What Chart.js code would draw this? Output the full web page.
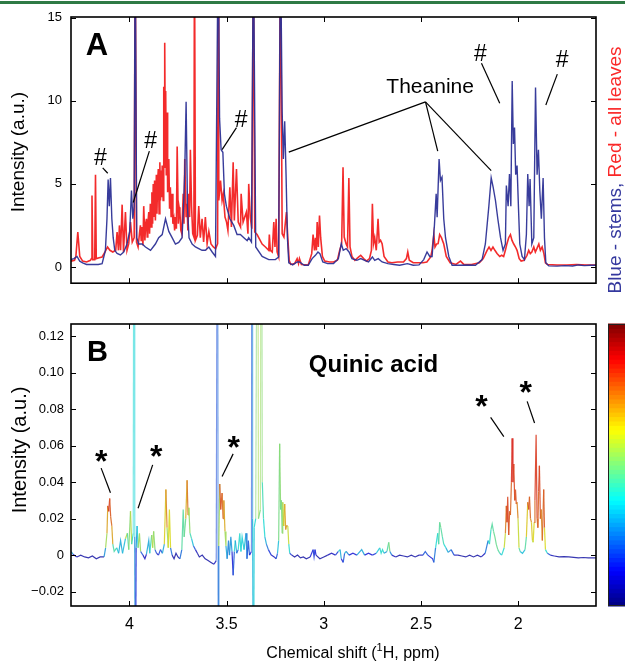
<!DOCTYPE html>
<html><head><meta charset="utf-8">
<script src="https://cdn.jsdelivr.net/npm/chart.js@4.4.1/dist/chart.umd.min.js"></script>
<style>
html,body{margin:0;padding:0;background:#fff;}
#wrap{position:relative;width:625px;height:662px;overflow:hidden;background:#fff;}
#topline{position:absolute;left:0;top:1px;width:625px;height:3px;background:#2f7a45;}
#boxA{position:absolute;left:0;top:0;width:625px;height:300px;}
#boxB{position:absolute;left:0;top:300px;width:625px;height:362px;}
</style></head><body>
<div id="wrap">
<div id="boxA"><canvas id="cA" width="625" height="300"></canvas></div>
<div id="boxB"><canvas id="cB" width="625" height="362"></canvas></div>
<div id="topline"></div>
</div>
<script>
// ---------- DATA ----------
const xTicks = [2, 2.5, 3, 3.5, 4];
const yTicksA = [0, 5, 10, 15];
const yTicksB = [-0.02, 0, 0.02, 0.04, 0.06, 0.08, 0.10, 0.12];

// Panel A, blue: stems [ppm, intensity]
const stems = [
[4.300,0.45],[4.285,0.5],[4.269,0.63],[4.255,0.35],[4.240,0.25],[4.220,0.15],[4.200,0.15],[4.180,0.15],[4.160,0.15],[4.140,0.2],
[4.123,1.0],[4.115,2.9],[4.109,5.27],[4.103,3.66],[4.097,5.36],[4.090,2.9],[4.083,1.76],[4.075,1.0],[4.063,0.81],[4.046,0.72],
[4.029,0.9],[4.012,1.38],[3.998,2.14],[3.989,4.6],[3.982,2.9],[3.975,3.66],[3.970,20],[3.962,1.76],[3.952,1.38],[3.934,1.38],
[3.917,1.2],[3.891,1.0],[3.866,1.38],[3.849,1.76],[3.831,1.95],[3.814,2.9],[3.797,2.14],[3.780,1.76],[3.763,1.38],[3.746,1.48],
[3.729,1.76],[3.720,4.0],[3.715,5.7],[3.708,9.94],[3.701,3.66],[3.693,1.76],[3.677,1.38],[3.660,1.2],[3.643,1.1],[3.626,1.0],
[3.609,1.0],[3.591,1.2],[3.574,0.9],[3.557,0.63],[3.543,20],[3.536,8.96],[3.528,7.06],[3.519,6.9],[3.511,4.4],[3.501,3.66],
[3.483,2.9],[3.463,2.5],[3.446,1.95],[3.429,1.95],[3.411,1.76],[3.394,1.58],[3.386,1.76],[3.372,1.5],[3.362,20],[3.350,1.2],
[3.317,0.63],[3.283,0.44],[3.249,0.44],[3.232,0.6],[3.223,20],[3.214,9.34],[3.208,6.5],[3.201,8.77],[3.194,5.55],[3.187,1.76],
[3.180,0.25],[3.160,0.12],[3.137,0.3],[3.125,0.3],[3.100,0.1],[3.080,0.1],[3.060,0.5],[3.043,0.7],[3.030,0.9],[3.020,0.8],
[3.005,0.3],[2.980,0.2],[2.950,0.2],[2.925,0.5],[2.910,1.4],[2.900,1.0],[2.885,1.1],[2.870,0.9],[2.855,0.5],[2.830,0.4],
[2.810,0.5],[2.790,0.4],[2.770,0.3],[2.750,0.6],[2.738,0.4],[2.720,0.5],[2.700,0.3],[2.670,0.2],[2.640,0.15],[2.610,0.1],
[2.570,0.2],[2.540,0.1],[2.510,0.12],[2.486,0.44],[2.469,0.9],[2.455,0.63],[2.443,0.63],[2.431,2.5],[2.422,4.4],[2.417,3.0],
[2.407,6.5],[2.400,5.2],[2.392,5.4],[2.383,2.9],[2.374,1.76],[2.357,0.63],[2.340,0.1],[2.300,0.1],[2.260,0.12],[2.220,0.1],
[2.186,0.44],[2.169,1.38],[2.151,3.66],[2.139,5.36],[2.129,4.8],[2.117,4.0],[2.105,2.9],[2.091,1.76],[2.078,1.0],[2.066,1.38],
[2.061,4.9],[2.052,3.66],[2.045,5.6],[2.038,3.66],[2.031,11.2],[2.025,7.4],[2.019,8.4],[2.013,5.55],[2.006,6.1],[1.999,3.66],
[1.992,1.38],[1.980,0.63],[1.968,0.44],[1.958,1.95],[1.951,5.6],[1.944,3.66],[1.939,5.3],[1.930,1.38],[1.920,1.76],[1.911,10.8],
[1.903,5.55],[1.896,7.06],[1.889,4.6],[1.881,2.9],[1.872,5.36],[1.865,1.76],[1.858,0.25],[1.843,0.06],[1.800,0.05],[1.760,0.08],
[1.720,0.06],[1.690,0.12],[1.660,0.08],[1.630,0.1],[1.600,0.1]
];

// Panel A, red: all leaves [ppm, intensity]
const leaves = [
[4.300,0.35],[4.282,0.4],[4.275,0.63],[4.265,2.1],[4.255,0.63],[4.240,0.35],[4.220,0.3],[4.200,0.4],[4.195,0.5],[4.192,4.3],
[4.188,0.44],[4.178,0.44],[4.174,5.55],[4.170,0.5],[4.155,0.55],[4.140,0.6],[4.125,0.9],[4.112,1.2],[4.100,1.0],[4.085,0.9],
[4.070,1.0],[4.063,2.1],[4.056,1.0],[4.051,2.5],[4.045,1.0],[4.037,3.75],[4.030,0.9],[4.020,3.3],[4.012,1.0],[4.003,1.4],
[3.994,2.7],[3.985,1.5],[3.975,1.76],[3.970,20],[3.963,1.5],[3.955,1.2],[3.948,2.0],[3.943,2.5],[3.939,1.6],[3.935,2.4],
[3.930,1.3],[3.926,3.66],[3.920,1.6],[3.916,2.6],[3.912,2.9],[3.908,1.8],[3.905,2.6],[3.900,3.3],[3.896,2.0],[3.892,3.8],
[3.888,2.4],[3.884,4.5],[3.880,2.6],[3.877,5.0],[3.874,3.0],[3.870,5.2],[3.866,2.8],[3.861,5.55],[3.858,3.2],[3.855,5.0],
[3.851,5.9],[3.847,3.2],[3.843,6.3],[3.840,4.0],[3.836,5.8],[3.833,4.2],[3.831,6.1],[3.826,4.0],[3.823,10.85],[3.820,6.0],
[3.818,13.5],[3.815,7.0],[3.813,10.6],[3.810,5.5],[3.806,9.3],[3.803,4.5],[3.801,5.0],[3.797,6.5],[3.793,3.5],[3.789,4.8],
[3.785,3.0],[3.780,4.4],[3.776,2.6],[3.771,2.9],[3.767,2.2],[3.763,3.0],[3.758,2.3],[3.754,7.25],[3.748,2.6],[3.744,3.6],
[3.740,3.3],[3.735,2.2],[3.730,2.0],[3.723,4.4],[3.719,2.6],[3.715,6.5],[3.708,3.0],[3.703,3.8],[3.699,2.2],[3.694,4.4],
[3.690,3.0],[3.686,7.06],[3.680,3.66],[3.674,2.0],[3.668,1.8],[3.665,20],[3.660,1.6],[3.650,1.9],[3.643,3.66],[3.635,1.76],
[3.626,2.9],[3.618,1.5],[3.609,3.0],[3.600,1.4],[3.591,2.14],[3.580,1.38],[3.568,1.2],[3.556,1.1],[3.546,1.4],[3.543,20],
[3.540,4.0],[3.531,5.2],[3.523,4.0],[3.517,4.4],[3.508,3.0],[3.500,2.7],[3.493,2.2],[3.483,4.8],[3.475,2.4],[3.466,6.3],
[3.460,2.8],[3.449,5.9],[3.440,2.7],[3.428,2.4],[3.425,4.4],[3.415,2.7],[3.398,3.3],[3.390,2.0],[3.386,5.0],[3.378,3.0],
[3.370,2.3],[3.362,20],[3.355,2.1],[3.343,1.95],[3.317,1.38],[3.300,1.2],[3.283,1.0],[3.280,1.95],[3.275,1.0],[3.265,0.9],
[3.257,2.7],[3.251,1.2],[3.245,2.9],[3.240,0.9],[3.232,0.6],[3.223,20],[3.214,2.0],[3.205,1.8],[3.192,3.3],[3.185,1.76],
[3.178,0.4],[3.170,0.15],[3.150,0.2],[3.137,0.5],[3.130,0.2],[3.125,0.5],[3.115,0.15],[3.080,0.12],[3.062,0.8],[3.055,1.95],
[3.048,1.0],[3.043,1.76],[3.038,1.0],[3.034,2.7],[3.028,1.2],[3.022,3.1],[3.016,1.76],[3.007,0.63],[2.995,0.35],[2.970,0.3],
[2.950,0.3],[2.930,0.4],[2.918,1.0],[2.908,1.4],[2.901,6.0],[2.895,1.8],[2.885,1.38],[2.878,1.2],[2.871,5.36],[2.865,1.2],
[2.855,0.63],[2.840,0.4],[2.820,0.6],[2.810,0.7],[2.795,0.5],[2.780,0.35],[2.765,0.5],[2.755,1.0],[2.750,3.8],[2.744,1.4],
[2.738,1.76],[2.730,1.0],[2.721,2.9],[2.715,1.5],[2.708,1.6],[2.700,1.4],[2.690,0.63],[2.670,0.3],[2.650,0.25],[2.620,0.3],
[2.590,0.3],[2.575,0.5],[2.568,0.9],[2.560,0.4],[2.540,0.25],[2.510,0.25],[2.490,0.25],[2.470,0.3],[2.450,0.6],[2.443,1.0],
[2.434,1.95],[2.428,1.2],[2.420,1.38],[2.412,1.4],[2.404,1.95],[2.395,1.76],[2.383,1.38],[2.370,0.63],[2.350,0.25],[2.320,0.15],
[2.297,0.35],[2.280,0.15],[2.240,0.15],[2.200,0.25],[2.180,0.5],[2.160,1.0],[2.150,1.2],[2.140,1.0],[2.130,1.2],[2.120,1.0],
[2.109,0.81],[2.095,0.63],[2.085,0.7],[2.075,0.63],[2.066,1.0],[2.058,1.4],[2.049,1.76],[2.040,1.95],[2.032,1.6],[2.023,1.38],
[2.014,1.2],[2.006,1.0],[1.995,0.5],[1.985,0.35],[1.970,0.4],[1.955,0.7],[1.946,1.0],[1.938,0.8],[1.930,0.9],[1.920,1.2],
[1.912,0.9],[1.904,1.1],[1.894,1.38],[1.886,1.0],[1.877,1.2],[1.868,0.8],[1.860,0.25],[1.850,0.15],[1.800,0.12],[1.750,0.12],
[1.700,0.15],[1.650,0.12],[1.600,0.12]
];

// Panel B: [ppm, covariance, correlation(0..1 colour value)]
const quinic = [
[4.300,0.002,0.45],[4.290,0.0005,0.15],[4.270,-0.001,0.06],[4.250,0.0,0.06],[4.230,-0.001,0.06],[4.210,-0.0015,0.06],[4.190,-0.0005,0.06],
[4.170,-0.002,0.06],[4.150,-0.001,0.06],[4.130,-0.001,0.06],[4.122,0.004,0.5],[4.115,0.012,0.6],[4.111,0.027,0.8],[4.106,0.024,0.85],
[4.101,0.031,0.85],[4.096,0.021,0.75],[4.090,0.016,0.8],[4.085,0.006,0.6],[4.078,0.002,0.28],[4.065,0.004,0.6],[4.055,0.001,0.12],
[4.045,0.008,0.5],[4.035,0.001,0.12],[4.020,0.009,0.55],[4.010,0.012,0.6],[4.003,0.003,0.28],[3.994,0.024,0.75],[3.988,0.006,0.4],
[3.980,0.012,0.38],[3.976,0.3,0.38],[3.972,0.01,0.36],[3.969,-0.1,0.18],[3.965,0.004,0.12],[3.960,0.016,0.45],[3.955,0.004,0.28],
[3.948,0.012,0.8],[3.942,0.002,0.28],[3.930,0.0,0.12],[3.920,-0.002,0.06],[3.912,0.0005,0.12],[3.900,0.008,0.5],[3.895,0.001,0.12],
[3.885,0.011,0.7],[3.880,0.004,0.4],[3.875,0.013,0.75],[3.868,0.003,0.28],[3.860,0.001,0.12],[3.850,0.0,0.06],[3.840,0.003,0.28],
[3.830,0.001,0.12],[3.820,0.006,0.5],[3.812,0.036,0.78],[3.806,0.015,0.7],[3.800,0.004,0.4],[3.794,0.025,0.85],[3.788,0.004,0.4],
[3.780,0.0,0.06],[3.770,-0.002,0.06],[3.760,0.001,0.06],[3.750,-0.001,0.06],[3.740,-0.002,0.06],[3.730,0.003,0.4],[3.723,0.025,0.5],
[3.718,0.01,0.4],[3.710,0.02,0.55],[3.703,0.041,0.82],[3.698,0.022,0.7],[3.694,0.026,0.6],[3.688,0.012,0.45],[3.680,0.009,0.4],
[3.670,0.005,0.28],[3.660,0.003,0.12],[3.650,0.001,0.06],[3.640,-0.001,0.06],[3.625,0.0,0.06],[3.610,-0.002,0.06],[3.595,-0.003,0.06],
[3.580,-0.004,0.06],[3.565,-0.005,0.06],[3.553,-0.003,0.12],[3.546,0.3,0.25],[3.543,-0.1,0.2],[3.540,0.005,0.28],[3.535,0.039,0.82],
[3.530,0.025,0.8],[3.523,0.034,0.8],[3.518,0.02,0.75],[3.514,0.030,0.78],[3.508,0.013,0.6],[3.503,0.005,0.5],[3.497,-0.002,0.12],
[3.490,0.008,0.4],[3.485,0.0,0.12],[3.478,0.01,0.45],[3.472,0.002,0.12],[3.466,-0.011,0.12],[3.460,0.002,0.28],[3.455,0.008,0.5],
[3.448,0.001,0.12],[3.440,0.003,0.28],[3.432,0.012,0.5],[3.426,0.002,0.28],[3.420,0.01,0.45],[3.410,0.003,0.28],[3.400,0.012,0.4],
[3.395,-0.002,0.12],[3.388,0.008,0.28],[3.382,0.0,0.12],[3.372,0.002,0.12],[3.369,0.3,0.25],[3.366,0.02,0.3],[3.362,-0.1,0.36],
[3.358,0.015,0.36],[3.350,0.02,0.4],[3.340,0.3,0.62],[3.336,0.02,0.5],[3.326,0.025,0.5],[3.321,0.3,0.58],[3.316,0.04,0.45],
[3.310,0.02,0.4],[3.303,0.01,0.36],[3.295,0.006,0.28],[3.285,0.003,0.2],[3.270,0.0,0.12],[3.255,-0.001,0.06],[3.245,-0.002,0.12],
[3.238,0.001,0.28],[3.232,0.008,0.4],[3.227,0.061,0.58],[3.222,0.025,0.45],[3.218,0.03,0.5],[3.214,0.012,0.5],[3.211,0.029,0.55],
[3.206,0.016,0.6],[3.201,0.028,0.7],[3.196,0.014,0.7],[3.192,0.016,0.75],[3.185,0.016,0.7],[3.180,0.006,0.5],[3.175,0.001,0.28],
[3.165,0.0,0.06],[3.150,-0.001,0.06],[3.135,0.0,0.06],[3.120,-0.0015,0.06],[3.105,-0.001,0.06],[3.090,-0.002,0.06],[3.070,-0.001,0.06],
[3.055,0.003,0.2],[3.050,-0.001,0.12],[3.045,0.003,0.2],[3.040,0.0,0.06],[3.020,-0.002,0.06],[3.000,-0.001,0.06],[2.980,0.0,0.06],
[2.960,0.001,0.12],[2.940,0.0,0.06],[2.925,0.002,0.28],[2.916,0.003,0.5],[2.910,-0.002,0.12],[2.900,-0.004,0.12],[2.893,0.001,0.28],
[2.885,0.002,0.4],[2.870,0.0,0.12],[2.850,0.001,0.12],[2.830,0.0,0.12],[2.805,0.003,0.5],[2.790,0.0,0.12],[2.770,0.001,0.12],
[2.750,0.0,0.12],[2.730,0.001,0.2],[2.712,0.004,0.5],[2.705,0.001,0.28],[2.698,0.003,0.5],[2.690,0.001,0.28],[2.675,0.002,0.28],
[2.666,0.007,0.6],[2.660,0.002,0.4],[2.650,0.0,0.12],[2.630,-0.001,0.06],[2.610,0.0,0.06],[2.590,-0.0005,0.06],[2.570,-0.001,0.06],
[2.550,0.0,0.06],[2.530,-0.001,0.06],[2.510,0.0,0.06],[2.490,0.0,0.12],[2.478,0.002,0.28],[2.465,0.0,0.12],[2.440,-0.002,0.12],
[2.434,-0.004,0.12],[2.425,0.004,0.36],[2.414,0.012,0.4],[2.409,0.006,0.4],[2.404,0.018,0.5],[2.398,0.015,0.45],[2.390,0.01,0.45],
[2.383,0.006,0.4],[2.372,0.004,0.36],[2.360,0.0015,0.28],[2.345,0.003,0.28],[2.330,0.0,0.12],[2.310,0.0,0.06],[2.290,-0.0005,0.06],
[2.270,-0.001,0.06],[2.250,0.0,0.06],[2.230,-0.001,0.06],[2.210,0.0,0.06],[2.190,-0.001,0.06],[2.170,0.001,0.12],[2.155,0.008,0.36],
[2.148,0.006,0.36],[2.140,0.014,0.45],[2.134,0.017,0.45],[2.127,0.013,0.45],[2.120,0.01,0.5],[2.113,0.006,0.45],[2.105,0.003,0.5],
[2.095,0.001,0.4],[2.085,0.0,0.28],[2.072,0.004,0.5],[2.066,0.012,0.7],[2.061,0.027,0.8],[2.058,0.018,0.8],[2.054,0.032,0.85],
[2.049,0.011,0.8],[2.044,0.024,0.8],[2.040,0.022,0.75],[2.035,0.04,0.82],[2.031,0.064,0.88],[2.027,0.04,0.85],[2.023,0.050,0.85],
[2.018,0.03,0.8],[2.014,0.036,0.82],[2.010,0.028,0.8],[2.006,0.029,0.78],[2.001,0.02,0.7],[1.996,0.004,0.5],[1.990,0.002,0.4],
[1.978,0.001,0.28],[1.965,0.003,0.4],[1.958,0.01,0.5],[1.951,0.029,0.8],[1.946,0.025,0.8],[1.942,0.032,0.82],[1.937,0.02,0.75],
[1.932,0.018,0.7],[1.927,0.008,0.6],[1.923,0.007,0.5],[1.918,0.018,0.75],[1.914,0.03,0.8],[1.908,0.066,0.88],[1.903,0.02,0.8],
[1.899,0.015,0.75],[1.895,0.035,0.82],[1.891,0.049,0.85],[1.886,0.02,0.8],[1.882,0.025,0.78],[1.876,0.008,0.7],[1.869,0.036,0.85],
[1.865,0.015,0.75],[1.860,0.003,0.5],[1.850,0.001,0.28],[1.835,0.0,0.12],[1.815,-0.0005,0.06],[1.790,-0.001,0.06],[1.765,-0.0008,0.06],
[1.740,-0.001,0.06],[1.715,-0.0012,0.06],[1.690,-0.0015,0.06],[1.665,-0.0013,0.06],[1.640,-0.0015,0.06],[1.615,-0.0015,0.06],[1.600,-0.0015,0.06]
];

// Annotation anchors in data units
const hashMarks = [
  {at:[4.149,6.59], from:[4.137,5.97], to:[4.111,5.64]},
  {at:[3.891,7.63], from:[3.897,6.97], to:[3.980,3.88]},
  {at:[3.425,8.86], from:[3.449,8.39], to:[3.523,7.06]},
  {at:[2.194,12.84], from:[2.189,12.27], to:[2.095,9.86]},
  {at:[1.774,12.46], from:[1.799,11.61], to:[1.858,9.75]}
];
const theanine = {at:[2.453,10.85], apex:[2.477,9.94], targets:[[3.180,6.91],[2.414,6.97],[2.139,5.80]]};
const starMarks = [
  {at:[4.145,0.055], from:[4.145,0.0477], to:[4.097,0.0342]},
  {at:[3.862,0.0577], from:[3.880,0.0495], to:[3.955,0.0257]},
  {at:[3.463,0.0623], from:[3.466,0.0555], to:[3.523,0.0431]},
  {at:[2.189,0.0852], from:[2.142,0.0755], to:[2.074,0.065]},
  {at:[1.962,0.0929], from:[1.954,0.0843], to:[1.916,0.0724]}
];

// ---------- HELPERS ----------
const FONT = '"Liberation Sans", Arial, Helvetica, sans-serif';
const clamp = v => Math.max(0, Math.min(1, v));
function jet(v){
  return [clamp(1.5-Math.abs(4*v-3))*255, clamp(1.5-Math.abs(4*v-2))*255, clamp(1.5-Math.abs(4*v-1))*255].map(Math.round);
}
function lineColor(v, offScale){
  const c = jet(v).map(k => Math.round(k*0.7 + 130*0.3));
  return `rgba(${c[0]},${c[1]},${c[2]},${offScale ? 0.6 : 0.92})`;
}

const framePlugin = {
  id:'frame',
  afterDatasetsDraw(chart){
    const {ctx, chartArea:a, scales:{x,y}} = chart;
    ctx.save();
    ctx.strokeStyle = '#000';
    ctx.lineWidth = 1;
    ctx.beginPath();
    x.ticks.forEach(t => { const p = Math.round(x.getPixelForValue(t.value))+0.5;
      ctx.moveTo(p,a.bottom); ctx.lineTo(p,a.bottom-5); ctx.moveTo(p,a.top); ctx.lineTo(p,a.top+5); });
    y.ticks.forEach(t => { const p = Math.round(y.getPixelForValue(t.value))+0.5;
      ctx.moveTo(a.left,p); ctx.lineTo(a.left+5,p); ctx.moveTo(a.right,p); ctx.lineTo(a.right-5,p); });
    ctx.stroke();
    ctx.lineWidth = 1.6;
    ctx.strokeRect(a.left, a.top, a.right-a.left, a.bottom-a.top);
    ctx.restore();
  }
};

function P(chart, pt){ return [chart.scales.x.getPixelForValue(pt[0]), chart.scales.y.getPixelForValue(pt[1])]; }
function line(ctx, p, q){ ctx.beginPath(); ctx.moveTo(p[0],p[1]); ctx.lineTo(q[0],q[1]); ctx.stroke(); }
function text(ctx, s, x, y, font, color, align, base){
  ctx.font = font; ctx.fillStyle = color || '#000'; ctx.textAlign = align || 'center'; ctx.textBaseline = base || 'middle';
  ctx.fillText(s, x, y);
}
function vtext(ctx, s, x, y, font){
  ctx.save(); ctx.translate(x,y); ctx.rotate(-Math.PI/2);
  text(ctx, s, 0, 0, font, '#000', 'center', 'middle'); ctx.restore();
}

const annotA = {
  id:'annotA',
  afterDraw(chart){
    const ctx = chart.ctx, a = chart.chartArea;
    ctx.save();
    ctx.strokeStyle = '#000'; ctx.lineWidth = 1.2;
    const pA = P(chart,[4.166,13.27]);
    text(ctx,'A',pA[0],pA[1],'bold 31px '+FONT);
    hashMarks.forEach(h => {
      const p = P(chart,h.at);
      text(ctx,'#',p[0],p[1]+1,'23px '+FONT);
      line(ctx,P(chart,h.from),P(chart,h.to));
    });
    const tp = P(chart,theanine.at);
    text(ctx,'Theanine',tp[0],tp[1],'21px '+FONT);
    const ap = P(chart,theanine.apex);
    theanine.targets.forEach(t => line(ctx,ap,P(chart,t)));
    vtext(ctx,'Intensity (a.u.)',19,(a.top+a.bottom)/2+2,'19px '+FONT);
    ctx.font = '19px '+FONT;
    const s1 = 'Blue - stems, ', s2 = 'Red - all leaves';
    const w1 = ctx.measureText(s1).width, w2 = ctx.measureText(s2).width;
    ctx.translate(616, 170 + (w1+w2)/2); ctx.rotate(-Math.PI/2);
    text(ctx,s1,0,0,'19px '+FONT,'rgb(52,56,158)','left','middle');
    text(ctx,s2,w1,0,'19px '+FONT,'rgb(250,40,40)','left','middle');
    ctx.restore();
  }
};

const annotB = {
  id:'annotB',
  afterDraw(chart){
    const ctx = chart.ctx, a = chart.chartArea;
    ctx.save();
    ctx.strokeStyle = '#000'; ctx.lineWidth = 1.2;
    const pB = P(chart,[4.164,0.111]);
    text(ctx,'B',pB[0],pB[1],'bold 29px '+FONT);
    const q = P(chart,[2.744,0.1041]);
    text(ctx,'Quinic acid',q[0],q[1],'bold 24px '+FONT);
    starMarks.forEach(s => {
      const p = P(chart,s.at);
      text(ctx,'*',p[0],p[1]+17,'bold 32px '+FONT,'#000','center','alphabetic');
      line(ctx,P(chart,s.from),P(chart,s.to));
    });
    vtext(ctx,'Intensity (a.u.)',20,150,'20px '+FONT);
    const f = '16px '+FONT, fs = '11px '+FONT;
    ctx.font = f; const t1 = 'Chemical shift (', t3 = 'H, ppm)';
    const w1 = ctx.measureText(t1).width, w3 = ctx.measureText(t3).width;
    ctx.font = fs; const w2 = ctx.measureText('1').width;
    const total = w1+w2+w3; const x0 = 353 - total/2; const yb = 358;
    text(ctx,t1,x0,yb,f,'#000','left','alphabetic');
    text(ctx,'1',x0+w1,yb-7,fs,'#000','left','alphabetic');
    text(ctx,t3,x0+w1+w2,yb,f,'#000','left','alphabetic');
    const cx = a.right + 12, cw = 20, n = 64, h = (a.bottom - a.top)/n;
    for (let i=0;i<n;i++){
      const c = jet((i+0.5)/n);
      ctx.fillStyle = `rgb(${c[0]},${c[1]},${c[2]})`;
      ctx.fillRect(cx, a.bottom - (i+1)*h - 0.5, cw, h+1);
    }
    ctx.strokeStyle = '#222'; ctx.lineWidth = 1;
    ctx.strokeRect(cx+0.5, a.top+0.5, cw, a.bottom-a.top-1);
    ctx.restore();
  }
};

const toXY = arr => arr.map(d => ({x:d[0], y:d[1]}));

function axes(yMin, yMax, yTicks, showX, yPad, xH){
  return {
    x: { type:'linear', reverse:true, min:1.6, max:4.3,
      afterBuildTicks: s => { s.ticks = xTicks.map(v => ({value:v})); },
      afterFit: s => { s.height = xH; },
      grid:{display:false, drawTicks:false}, border:{display:false},
      ticks:{display:showX, padding:9, color:'#000', font:{size:16, family:FONT}, maxRotation:0,
        callback: v => String(v)} },
    y: { type:'linear', min:yMin, max:yMax,
      afterBuildTicks: s => { s.ticks = yTicks.map(v => ({value:v})); },
      afterFit: s => { s.width = 71; },
      grid:{display:false, drawTicks:false}, border:{display:false},
      ticks:{padding:yPad, color:'#000', font:{size:13, family:FONT},
        callback: v => v === 0 ? '0' : (Math.abs(v) < 1 ? v.toFixed(2).replace('-', '\u2212') : String(v))} }
  };
}

Chart.defaults.font.family = FONT;

new Chart(document.getElementById('cA'), {
  type:'line',
  data:{ datasets:[
    {label:'Blue - stems', data:toXY(stems), borderColor:'rgba(45,50,150,0.95)', borderWidth:1.4, pointRadius:0, tension:0, clip:0, parsing:false, order:1},
    {label:'Red - all leaves', data:toXY(leaves), borderColor:'rgba(242,25,25,0.92)', borderWidth:1.6, pointRadius:0, tension:0, clip:0, parsing:false, order:2}
  ]},
  options:{ responsive:false, animation:false, events:[],
    layout:{padding:{left:0, right:29, top:17, bottom:0}},
    plugins:{legend:{display:false}, tooltip:{enabled:false}},
    scales: axes(-0.98, 15.05, yTicksA, false, 9, 3) },
  plugins:[framePlugin, annotA]
});

new Chart(document.getElementById('cB'), {
  type:'line',
  data:{ datasets:[
    {label:'Quinic acid', data:toXY(quinic), borderWidth:1.2, pointRadius:0, tension:0, clip:0, parsing:false,
     borderColor:'rgba(60,60,170,0.9)',
     segment:{ borderColor: c => {
       const a = quinic[c.p0DataIndex], b = quinic[c.p1DataIndex];
       const off = Math.abs(a[1]) > 0.13 || Math.abs(b[1]) > 0.13;
       return lineColor((a[2] + b[2])/2, off);
     } } }
  ]},
  options:{ responsive:false, animation:false, events:[],
    layout:{padding:{left:0, right:29, top:24, bottom:0}},
    plugins:{legend:{display:false}, tooltip:{enabled:false}},
    scales: axes(-0.0279, 0.1267, yTicksB, true, 7, 56) },
  plugins:[framePlugin, annotB]
});
</script>
</body></html>
